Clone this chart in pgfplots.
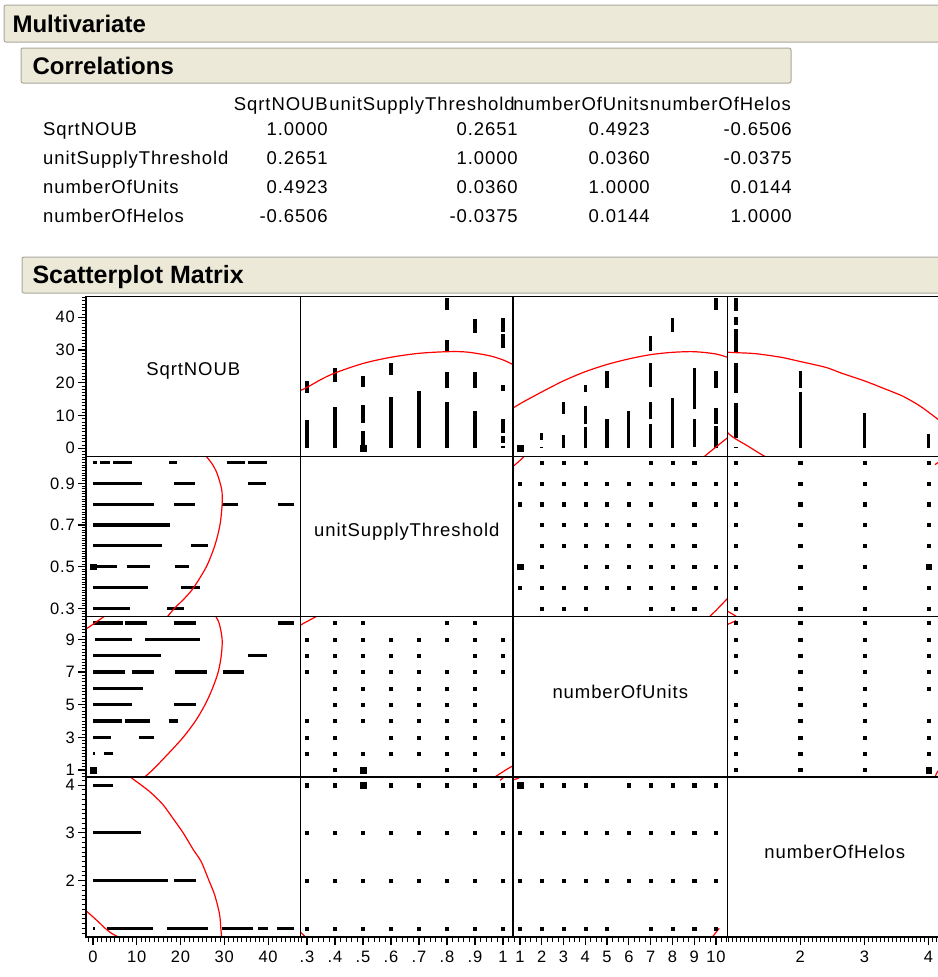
\documentclass[border=0pt]{standalone}
\usepackage{fontspec}
\setmainfont{Liberation Sans}
\newfontfamily\jmp[LetterSpace=5]{Liberation Sans}
\usepackage{pgfplots}
\pgfplotsset{compat=1.18}
\usepackage{pgfplotstable}

\definecolor{hdrfill}{HTML}{ECE9D8}
\definecolor{hdrline}{HTML}{A9A79C}

\newcommand\tabfont{\jmp\fontsize{18.5}{22}\selectfont}
\newcommand\tickfont{\jmp\fontsize{16.5}{18}\selectfont}

% SqrtNOUB runs at each unitSupplyThreshold level (nan ends a run)
\pgfplotstableread{
lev val
0.3 0
0.3 8.5
0.3 nan
0.3 17
0.3 20.7
0.3 nan
0.4 0
0.4 12.6
0.4 nan
0.4 20.2
0.4 24.4
0.4 nan
0.5 0
0.5 5.4
0.5 nan
0.5 7.7
0.5 13.1
0.5 nan
0.5 18.8
0.5 22
0.5 nan
0.6 0
0.6 15.7
0.6 nan
0.6 22.5
0.6 26.2
0.6 nan
0.7 0
0.7 17.5
0.7 nan
0.8 0
0.8 14
0.8 nan
0.8 18.5
0.8 23.3
0.8 nan
0.8 29.4
0.8 33.2
0.8 nan
0.8 42.2
0.8 46
0.8 nan
0.9 0
0.9 11.3
0.9 nan
0.9 18.5
0.9 23.3
0.9 nan
0.9 35.3
0.9 39.5
0.9 nan
1.0 0
1.0 0.8
1.0 nan
1.0 1.6
1.0 3.9
1.0 nan
1.0 4.6
1.0 8.9
1.0 nan
1.0 17.4
1.0 19.3
1.0 nan
1.0 30.5
1.0 34.8
1.0 nan
1.0 35.5
1.0 39.7
}\segUS

% SqrtNOUB runs at each numberOfUnits level
\pgfplotstableread{
lev val
2 0
2 0.5
2 nan
2 2.6
2 4.6
2 nan
3 0
3 4.2
3 nan
3 10.5
3 14
3 nan
4 0
4 6.6
4 nan
4 7.3
4 13
4 nan
4 17.3
4 19.4
4 nan
5 0
5 9
5 nan
5 18.5
5 23.5
5 nan
6 0
6 11.4
6 nan
7 0
7 7.4
7 nan
7 8.8
7 14
7 nan
7 18.8
7 26
7 nan
7 29.6
7 34.4
7 nan
8 0
8 15.5
8 nan
8 35.5
8 39.8
8 nan
9 0.5
9 9
9 nan
9 11.9
9 24.4
9 nan
10 0
10 6.9
10 nan
10 7.3
10 12.4
10 nan
10 18.5
10 23.5
10 nan
10 42.2
10 46
}\segN

% SqrtNOUB runs at each numberOfHelos level
\pgfplotstableread{
lev val
1 0
1 0.5
1 nan
1 3.1
1 13.7
1 nan
1 17
1 26.2
1 nan
1 29.4
1 36.5
1 nan
1 37.8
1 40
1 nan
1 42
1 46
1 nan
2 0
2 17.2
2 nan
2 18.5
2 23.5
2 nan
3 0
3 10.9
3 nan
4 0
4 4.5
}\segH

% level pairs that occur: unitSupplyThreshold x numberOfUnits
\pgfplotstableread{
us units
1.0 2
1.0 3
1.0 4
1.0 7
1.0 8
1.0 9
0.9 1
0.9 2
0.9 3
0.9 4
0.9 5
0.9 6
0.9 7
0.9 8
0.9 9
0.9 10
0.8 1
0.8 2
0.8 3
0.8 4
0.8 5
0.8 6
0.8 7
0.8 9
0.8 10
0.7 2
0.7 3
0.7 4
0.7 5
0.7 6
0.7 7
0.7 8
0.7 9
0.6 2
0.6 3
0.6 4
0.6 5
0.6 6
0.6 7
0.6 8
0.6 9
0.5 1
0.5 2
0.5 4
0.5 5
0.5 6
0.5 7
0.5 8
0.5 9
0.5 10
0.4 1
0.4 2
0.4 3
0.4 4
0.4 5
0.4 6
0.4 7
0.4 8
0.4 9
0.4 10
0.3 2
0.3 3
0.3 4
0.3 7
0.3 8
0.3 9
}\gridUN

% unitSupplyThreshold x numberOfHelos
\pgfplotstableread{
us helos
0.3 1
0.3 2
0.3 3
0.3 4
0.4 1
0.4 2
0.4 3
0.4 4
0.5 1
0.5 2
0.5 3
0.5 4
0.6 1
0.6 2
0.6 3
0.6 4
0.7 1
0.7 2
0.7 3
0.7 4
0.8 1
0.8 2
0.8 3
0.8 4
0.9 1
0.9 2
0.9 3
0.9 4
1.0 1
1.0 2
1.0 3
1.0 4
}\gridUH

% numberOfUnits x numberOfHelos
\pgfplotstableread{
units helos
1 1
1 2
1 3
1 4
2 1
2 2
2 3
2 4
3 1
3 2
3 3
3 4
4 1
4 2
4 3
4 4
5 1
5 2
5 3
6 2
6 3
6 4
7 1
7 2
7 3
7 4
8 1
8 2
8 3
8 4
9 1
9 2
9 3
9 4
10 1
10 2
10 3
10 4
}\gridNH

% density ellipse arcs
\pgfplotstableread{
us sq
0.25 16.6
0.30 18.6
0.35 21.0
0.40 23.0
0.50 25.9
0.60 27.8
0.70 29.0
0.80 29.5
0.87 29.4
0.95 28.3
1.00 27.0
1.05 25.0
}\ellUS
\pgfplotstableread{
units sq
0.50 11.5
1.0 13.6
2.0 17.2
3.0 20.6
4.0 23.4
5.0 25.6
6.0 27.3
7.0 28.6
8.0 29.3
9.0 29.5
10.0 28.8
10.6 27.6
}\ellNS
\pgfplotstableread{
units sq
9.45 -2.6
9.7 -1.2
10.0 0.4
10.3 2.0
10.6 3.6
}\ellNSb
\pgfplotstableread{
helos sq
0.80 29.4
1.0 29.2
1.3 28.9
1.7 27.8
2.0 26.5
2.4 24.7
2.65 22.9
3.0 20.6
3.3 18.3
3.6 15.9
3.86 13.0
4.07 10.0
4.25 7.3
}\ellHS
\pgfplotstableread{
helos sq
0.80 6.2
0.9 4.2
1.0 2.8
1.17 0.85
1.38 -1.7
1.5 -3
}\ellHSb
\pgfplotstableread{
units us
0.4 0.955
0.7 0.983
1.0 1.01
1.3 1.04
}\ellNUa
\pgfplotstableread{
units us
9.4 0.23
9.77 0.267
10.0 0.29
10.23 0.315
10.6 0.355
}\ellNUb
\pgfplotstableread{
helos us
0.82 0.295
0.92 0.277
1.0 0.262
1.05 0.25
}\ellHUa
\pgfplotstableread{
helos us
4.1 0.99
4.2 1.01
4.3 1.03
}\ellHUb
\pgfplotstableread{
helos units
0.80 9.8
0.87 9.92
0.93 10.02
1.0 10.15
}\ellHNa
\pgfplotstableread{
helos units
4.08 0.45
4.1 0.55
4.12 0.75
4.14 0.9
4.18 1.05
}\ellHNb

\pgfplotsset{
  panel/.style={scale only axis, anchor=north west, axis on top,
    axis line style={black, line width=1.5pt},
    xtick=\empty, ytick=\empty, clip=true, unbounded coords=jump,
    major tick style={black, line width=1.2pt},
    minor tick style={black, line width=0.9pt},
    major tick length=8pt, minor tick length=4.5pt,
    tick align=outside, xtick pos=bottom, ytick pos=left,
    tick label style={font=\tickfont, inner sep=0pt},
    yticklabel style={xshift=-3pt},
    xticklabel style={yshift=-6pt}},
  segs/.style={no markers, black, line width=3.2pt, line cap=butt},
  dots/.style={only marks, mark=square*, mark size=1.6pt, black},
  big/.style={only marks, mark=square*, mark size=2.8pt, black},
  ell/.style={no markers, red, line width=1.2pt, smooth},
  % ranges of each variable as a column and as a row
  xS/.style={xmin=-1.6, xmax=47.4}, yS/.style={ymin=-2.5, ymax=46.35},
  xU/.style={xmin=0.277, xmax=1.036}, yU/.style={ymin=0.261, ymax=1.029},
  xN/.style={xmin=0.68, xmax=10.53}, yN/.style={ymin=0.57, ymax=10.40},
  xH/.style={xmin=0.867, xmax=4.21}, yH/.style={ymin=0.82, ymax=4.17},
  % columns and rows of the matrix
  c1/.style={width=214.5pt}, c2/.style={width=212.5pt},
  c3/.style={width=214.5pt}, c4/.style={width=214.5pt},
  r1/.style={height=160pt}, r2/.style={height=160pt},
  r3/.style={height=160.5pt}, r4/.style={height=160pt},
  % rulers on the left column and bottom row
  tyS/.style={ytick={0,10,20,30,40}, yticklabels={0,10,20,30,40}, minor ytick={-2,-1,...,46}},
  tyU/.style={ytick={0.3,0.5,0.7,0.9}, yticklabels={0.3,0.5,0.7,0.9}, minor ytick={0.2625,0.275,...,1.03}},
  tyN/.style={ytick={1,3,5,7,9}, yticklabels={1,3,5,7,9}, minor ytick={0.6,0.8,...,10.4}},
  tyH/.style={ytick={2,3,4}, yticklabels={2,3,4}, minor ytick={0.9,1.0,...,4.15}},
  txS/.style={xtick={0,10,20,30,40}, xticklabels={0,10,20,30,40}, minor xtick={-1,0,...,47}},
  txU/.style={xtick={0.3,0.4,0.5,0.6,0.7,0.8,0.9,1.0}, xticklabels={.3,.4,.5,.6,.7,.8,.9,1}, minor xtick={0.28,0.30,...,1.03}},
  txN/.style={xtick={1,2,3,4,5,6,7,8,9,10}, xticklabels={1,2,3,4,5,6,7,8,9,10}, minor xtick={0.75,1.0,...,10.5}},
  txH/.style={xtick={2,3,4}, xticklabels={2,3,4}, minor xtick={0.875,0.9375,...,4.2}},
}

\begin{document}
\begin{tikzpicture}
\useasboundingbox (0pt,0pt) rectangle (937pt,-977pt);

% report outline headers
\draw[hdrline, fill=hdrfill, line width=1pt, rounded corners=2pt] (4pt,-5pt) rectangle (950pt,-42pt);
\node[anchor=base west, font=\fontsize{24}{26}\selectfont\bfseries] at (9pt,-32pt) {Multivariate};
\draw[hdrline, fill=hdrfill, line width=1pt, rounded corners=2pt] (21pt,-48pt) rectangle (791pt,-83pt);
\node[anchor=base west, font=\fontsize{24}{26}\selectfont\bfseries] at (29pt,-74pt) {Correlations};
\draw[hdrline, fill=hdrfill, line width=1pt, rounded corners=2pt] (22pt,-257pt) rectangle (950pt,-293pt);
\node[anchor=base west, font=\fontsize{25}{27}\selectfont\bfseries] at (29pt,-283pt) {Scatterplot Matrix};

% correlation table
\begin{scope}[every node/.style={font=\tabfont, inner sep=0pt}]
\node[anchor=base east] at (328pt,-110pt) {SqrtNOUB};
\node[anchor=base east] at (515pt,-110pt) {unitSupplyThreshold};
\node[anchor=base east] at (649pt,-110pt) {numberOfUnits};
\node[anchor=base west] at (650pt,-110pt) {numberOfHelos};
\node[anchor=base west] at (43pt,-135pt) {SqrtNOUB};
\node[anchor=base west] at (43pt,-164pt) {unitSupplyThreshold};
\node[anchor=base west] at (43pt,-193pt) {numberOfUnits};
\node[anchor=base west] at (43pt,-222pt) {numberOfHelos};
\node[anchor=base east] at (328pt,-135pt) {1.0000};
\node[anchor=base east] at (518pt,-135pt) {0.2651};
\node[anchor=base east] at (650pt,-135pt) {0.4923};
\node[anchor=base east] at (792pt,-135pt) {-0.6506};
\node[anchor=base east] at (328pt,-164pt) {0.2651};
\node[anchor=base east] at (518pt,-164pt) {1.0000};
\node[anchor=base east] at (650pt,-164pt) {0.0360};
\node[anchor=base east] at (792pt,-164pt) {-0.0375};
\node[anchor=base east] at (328pt,-193pt) {0.4923};
\node[anchor=base east] at (518pt,-193pt) {0.0360};
\node[anchor=base east] at (650pt,-193pt) {1.0000};
\node[anchor=base east] at (792pt,-193pt) {0.0144};
\node[anchor=base east] at (328pt,-222pt) {-0.6506};
\node[anchor=base east] at (518pt,-222pt) {-0.0375};
\node[anchor=base east] at (650pt,-222pt) {0.0144};
\node[anchor=base east] at (792pt,-222pt) {1.0000};
\end{scope}

% ---- row 1: SqrtNOUB ----
\begin{axis}[panel, at={(86pt,-296.5pt)}, c1, r1, xS, yS, tyS]
\node[font=\tabfont] at (rel axis cs:0.5,0.535) {SqrtNOUB};
\end{axis}
\begin{axis}[panel, at={(300.5pt,-296.5pt)}, c2, r1, xU, yS]
\addplot[segs] table[x=lev, y=val] {\segUS};
\addplot[big] coordinates {(0.5,0)};
\addplot[ell] table[x=us, y=sq] {\ellUS};
\end{axis}
\begin{axis}[panel, at={(513pt,-296.5pt)}, c3, r1, xN, yS]
\addplot[segs] table[x=lev, y=val] {\segN};
\addplot[big] coordinates {(1,0)};
\addplot[ell] table[x=units, y=sq] {\ellNS};
\addplot[ell] table[x=units, y=sq] {\ellNSb};
\end{axis}
\begin{axis}[panel, at={(727.5pt,-296.5pt)}, c4, r1, xH, yS]
\addplot[segs] table[x=lev, y=val] {\segH};
\addplot[ell] table[x=helos, y=sq] {\ellHS};
\addplot[ell] table[x=helos, y=sq] {\ellHSb};
\end{axis}

% ---- row 2: unitSupplyThreshold ----
\begin{axis}[panel, at={(86pt,-456.5pt)}, c1, r2, xS, yU, tyU]
\addplot[segs] table[x=val, y=lev] {\segUS};
\addplot[big] coordinates {(0,0.5)};
\addplot[ell] table[x=sq, y=us] {\ellUS};
\end{axis}
\begin{axis}[panel, at={(300.5pt,-456.5pt)}, c2, r2, xU, yU]
\node[font=\tabfont] at (rel axis cs:0.5,0.53) {unitSupplyThreshold};
\end{axis}
\begin{axis}[panel, at={(513pt,-456.5pt)}, c3, r2, xN, yU]
\addplot[dots] table[x=units, y=us] {\gridUN};
\addplot[big] coordinates {(1,0.5)};
\addplot[ell] table[x=units, y=us] {\ellNUa};
\addplot[ell] table[x=units, y=us] {\ellNUb};
\end{axis}
\begin{axis}[panel, at={(727.5pt,-456.5pt)}, c4, r2, xH, yU]
\addplot[dots] table[x=helos, y=us] {\gridUH};
\addplot[big] coordinates {(4,0.5)};
\addplot[ell] table[x=helos, y=us] {\ellHUa};
\addplot[ell] table[x=helos, y=us] {\ellHUb};
\end{axis}

% ---- row 3: numberOfUnits ----
\begin{axis}[panel, at={(86pt,-616.5pt)}, c1, r3, xS, yN, tyN]
\addplot[segs] table[x=val, y=lev] {\segN};
\addplot[big] coordinates {(0,1)};
\addplot[ell] table[x=sq, y=units] {\ellNS};
\addplot[ell] table[x=sq, y=units] {\ellNSb};
\end{axis}
\begin{axis}[panel, at={(300.5pt,-616.5pt)}, c2, r3, xU, yN]
\addplot[dots] table[x=us, y=units] {\gridUN};
\addplot[big] coordinates {(0.5,1)};
\addplot[ell] table[x=us, y=units] {\ellNUa};
\addplot[ell] table[x=us, y=units] {\ellNUb};
\end{axis}
\begin{axis}[panel, at={(513pt,-616.5pt)}, c3, r3, xN, yN]
\node[font=\tabfont] at (rel axis cs:0.5,0.53) {numberOfUnits};
\end{axis}
\begin{axis}[panel, at={(727.5pt,-616.5pt)}, c4, r3, xH, yN]
\addplot[dots] table[x=helos, y=units] {\gridNH};
\addplot[big] coordinates {(4,1)};
\addplot[ell] table[x=helos, y=units] {\ellHNa};
\addplot[ell] table[x=helos, y=units] {\ellHNb};
\end{axis}

% ---- row 4: numberOfHelos ----
\begin{axis}[panel, at={(86pt,-777pt)}, c1, r4, xS, yH, tyH, txS]
\addplot[segs] table[x=val, y=lev] {\segH};
\addplot[ell] table[x=sq, y=helos] {\ellHS};
\addplot[ell] table[x=sq, y=helos] {\ellHSb};
\end{axis}
\begin{axis}[panel, at={(300.5pt,-777pt)}, c2, r4, xU, yH, txU]
\addplot[dots] table[x=us, y=helos] {\gridUH};
\addplot[big] coordinates {(0.5,4)};
\addplot[ell] table[x=us, y=helos] {\ellHUa};
\addplot[ell] table[x=us, y=helos] {\ellHUb};
\end{axis}
\begin{axis}[panel, at={(513pt,-777pt)}, c3, r4, xN, yH, txN]
\addplot[dots] table[x=units, y=helos] {\gridNH};
\addplot[big] coordinates {(1,4)};
\addplot[ell] table[x=units, y=helos] {\ellHNa};
\addplot[ell] table[x=units, y=helos] {\ellHNb};
\end{axis}
\begin{axis}[panel, at={(727.5pt,-777pt)}, c4, r4, xH, yH, txH]
\node[font=\tabfont] at (rel axis cs:0.5,0.53) {numberOfHelos};
\end{axis}
\end{tikzpicture}
\end{document}
